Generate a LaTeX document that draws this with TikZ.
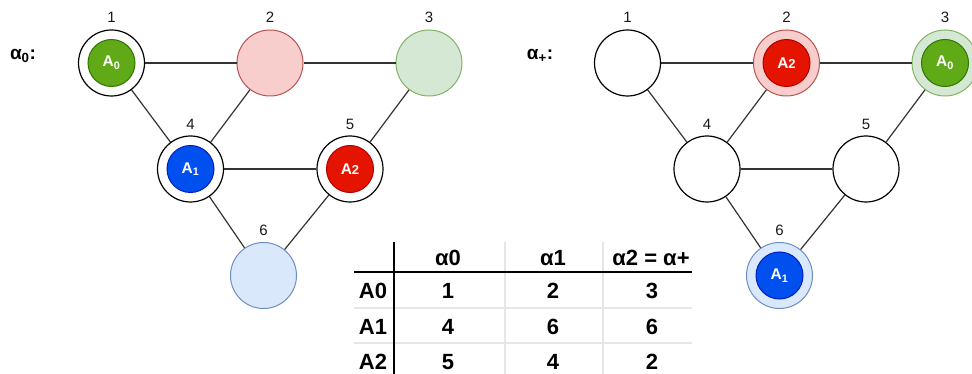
\documentclass[tikz,border=0pt]{standalone}
\usepackage{fontspec}
\setmainfont{Liberation Sans}
\definecolor{gfill}{HTML}{60A917}\definecolor{gline}{HTML}{2D7600}
\definecolor{bfill}{HTML}{0050EF}\definecolor{bline}{HTML}{001DBC}
\definecolor{rfill}{HTML}{E51400}\definecolor{rline}{HTML}{B20000}
\definecolor{pfill}{HTML}{F8CECC}\definecolor{pline}{HTML}{B85450}
\definecolor{lgfill}{HTML}{D5E8D4}\definecolor{lgline}{HTML}{82B366}
\definecolor{lbfill}{HTML}{DAE8FC}\definecolor{lbline}{HTML}{6C8EBF}
\definecolor{edge}{HTML}{333333}
\definecolor{grid}{HTML}{E6E6E6}
\tikzset{
  vertex/.style={circle, draw=black, line width=1.2pt, fill=white, minimum size=66pt, inner sep=0pt},
  pinkv/.style={vertex, draw=pline, fill=pfill, line width=1pt},
  greenv/.style={vertex, draw=lgline, fill=lgfill, line width=1pt},
  bluev/.style={vertex, draw=lbline, fill=lbfill, line width=1pt},
  agent/.style={circle, minimum size=47pt, inner sep=0pt, line width=1pt, text=white, font=\fontsize{15.5}{15.5}\selectfont\bfseries},
  agentG/.style={agent, fill=gfill, draw=gline},
  agentB/.style={agent, fill=bfill, draw=bline},
  agentR/.style={agent, fill=rfill, draw=rline},
  vlabel/.style={font=\fontsize{15}{15}\selectfont, text=black!90},
  link/.style={draw=edge, line width=1.2pt},
  title/.style={font=\fontsize{19}{19}\selectfont\bfseries},
  cell/.style={font=\fontsize{22}{22}\selectfont\bfseries, inner sep=0pt},
  thickrule/.style={draw=black, line width=1.5pt},
  thinrule/.style={draw=grid, line width=1.2pt}
}
\newcommand{\Azero}{A\textsubscript{0}}
\newcommand{\Aone}{A\textsubscript{1}}
\newcommand{\Atwo}{A{\fontsize{13}{13}\selectfont 2}}
\begin{document}
\begin{tikzpicture}[x=1pt, y=-1pt]
  \useasboundingbox (0,0) rectangle (972,374);
  \clip (0,0) rectangle (972,374);

  % ---- first graph: alpha_0 ----
  \node[title] (t0) at (23,56) {α\textsubscript{0}:};
  \node[vertex] (a1) at (111.5,63) {};
  \node[pinkv]  (a2) at (270,63) {};
  \node[greenv] (a3) at (429,63) {};
  \node[vertex] (a4) at (190.5,169) {};
  \node[vertex] (a5) at (350,169) {};
  \node[bluev]  (a6) at (263.5,275.5) {};
  \draw[link] (a1) -- (a2);
  \draw[link] (a2) -- (a3);
  \draw[link] (a1) -- (a4);
  \draw[link] (a2) -- (a4);
  \draw[link] (a3) -- (a5);
  \draw[link] (a4) -- (a5);
  \draw[link] (a4) -- (a6);
  \draw[link] (a5) -- (a6);
  \node[agentG] (a1in) at (a1) {\Azero};
  \node[agentB] (a4in) at (a4) {\Aone};
  \node[agentR] (a5in) at (a5) {\Atwo};
  \node[vlabel] (la1) at (111.5,17) {1};
  \node[vlabel] (la2) at (270,17) {2};
  \node[vlabel] (la3) at (429,17) {3};
  \node[vlabel] (la4) at (190.5,124) {4};
  \node[vlabel] (la5) at (350,124) {5};
  \node[vlabel] (la6) at (263.5,230) {6};

  % ---- second graph: alpha_+ ----
  \node[title] (tp) at (540,56) {α\textsubscript{+}:};
  \node[vertex] (b1) at (627.5,63) {};
  \node[pinkv]  (b2) at (786.5,63) {};
  \node[greenv] (b3) at (945,63) {};
  \node[vertex] (b4) at (707,169) {};
  \node[vertex] (b5) at (866,169) {};
  \node[bluev]  (b6) at (779.5,275.5) {};
  \draw[link] (b1) -- (b2);
  \draw[link] (b2) -- (b3);
  \draw[link] (b1) -- (b4);
  \draw[link] (b2) -- (b4);
  \draw[link] (b3) -- (b5);
  \draw[link] (b4) -- (b5);
  \draw[link] (b4) -- (b6);
  \draw[link] (b5) -- (b6);
  \node[agentR] (b2in) at (b2) {\Atwo};
  \node[agentG] (b3in) at (b3) {\Azero};
  \node[agentB] (b6in) at (b6) {\Aone};
  \node[vlabel] (lb1) at (627.5,17) {1};
  \node[vlabel] (lb2) at (786.5,17) {2};
  \node[vlabel] (lb3) at (945,17) {3};
  \node[vlabel] (lb4) at (707,124) {4};
  \node[vlabel] (lb5) at (866,124) {5};
  \node[vlabel] (lb6) at (779.5,230) {6};

  % ---- assignment table ----
  \draw[thinrule] (354,308) -- (692,308);
  \draw[thinrule] (354,343) -- (692,343);
  \draw[thinrule] (505,242) -- (505,374);
  \draw[thinrule] (603,242) -- (603,374);
  \draw[thickrule] (354,272) -- (692,272);
  \draw[thickrule] (394,242) -- (394,374);

  \node[cell] (h1) at (448,258) {α0};
  \node[cell] (h2) at (553,258) {α1};
  \node[cell] (h3) at (651,258) {α2 = α+};
  \node[cell] (r0) at (373,291) {A0};
  \node[cell] (r1) at (373,327) {A1};
  \node[cell] (r2) at (373,362) {A2};
  \node[cell] (c01) at (448,291) {1};
  \node[cell] (c02) at (553,291) {2};
  \node[cell] (c03) at (652,291) {3};
  \node[cell] (c11) at (448,327) {4};
  \node[cell] (c12) at (553,327) {6};
  \node[cell] (c13) at (652,327) {6};
  \node[cell] (c21) at (448,362) {5};
  \node[cell] (c22) at (553,362) {4};
  \node[cell] (c23) at (652,362) {2};
\end{tikzpicture}
\end{document}
